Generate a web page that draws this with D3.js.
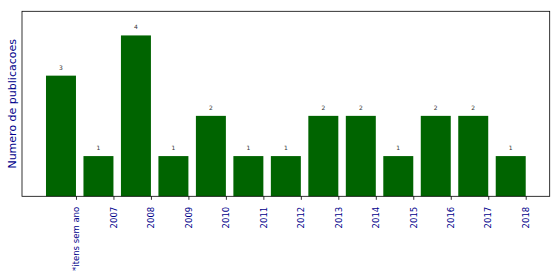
<!DOCTYPE html>
<html>
<head>
<meta charset="utf-8">
<script src="https://cdn.jsdelivr.net/npm/d3@7"></script>
<style>
  body { margin: 0; background: #fff; }
  svg { font-family: "DejaVu Sans", sans-serif; }
</style>
</head>
<body>
<div id="chart"></div>
<script>
const categories = ["*itens sem ano", "2007", "2008", "2009", "2010", "2011", "2012",
    "2013", "2014", "2015", "2016", "2017", "2018"];
const counts = [3, 1, 4, 1, 2, 1, 1, 2, 2, 1, 2, 2, 1];
const yLabel = "Numero de publicacoes";

const width = 560, height = 279;
const margin = { top: 11.3, right: 10.3, bottom: 82.7, left: 22 };
const barColor = "#006400", labelBlue = "darkblue";

const svg = d3.select("#chart")
    .append("svg")
    .attr("width", width)
    .attr("height", height);

const plotW = width - margin.left - margin.right;
const plotH = height - margin.top - margin.bottom;

const g = svg.append("g")
    .attr("transform", `translate(${margin.left},${margin.top})`);

// index scale, bars 0.8 wide, 5% margins like matplotlib
const n = categories.length;
const lo = -0.4, hi = n - 1 + 0.4, pad = (hi - lo) * 0.05;
const x = d3.scaleLinear().domain([lo - pad, hi + pad]).range([0, plotW]);
const y = d3.scaleLinear().domain([0, 4.6]).range([plotH, 0]);

g.selectAll("rect.bar")
    .data(counts)
    .enter().append("rect")
    .attr("class", "bar")
    .attr("x", (d, i) => x(i - 0.4))
    .attr("width", (d, i) => x(i + 0.4) - x(i - 0.4))
    .attr("y", d => y(d))
    .attr("height", d => y(0) - y(d))
    .attr("fill", barColor);

g.selectAll("text.val")
    .data(counts)
    .enter().append("text")
    .attr("class", "val")
    .attr("x", (d, i) => x(i))
    .attr("y", d => y(d) - 6)
    .attr("text-anchor", "middle")
    .attr("font-size", 6)
    .attr("fill", "#333")
    .text(d => d);

// ticks sit at the right edge of each bar
const xAxis = d3.axisBottom(x)
    .tickValues(d3.range(n).map(i => i + 0.4))
    .tickFormat((d, i) => categories[i])
    .tickSize(3.5)
    .tickPadding(3);

const ax = g.append("g")
    .attr("transform", `translate(0,${plotH})`)
    .call(xAxis);
ax.select(".domain").remove();
ax.selectAll(".tick line").attr("stroke", "#000").attr("stroke-width", 0.8);
ax.selectAll(".tick text")
    .attr("font-size", 8.5)
    .attr("font-family", "DejaVu Sans, sans-serif")
    .attr("fill", labelBlue)
    .attr("transform", "rotate(-90)")
    .attr("x", -10.5)
    .attr("y", 0)
    .attr("dy", "0.32em")
    .attr("text-anchor", "end");

g.append("rect")
    .attr("width", plotW)
    .attr("height", plotH)
    .attr("fill", "none")
    .attr("stroke", "#000")
    .attr("stroke-width", 0.8);

svg.append("text")
    .attr("transform", `translate(16,${margin.top + plotH / 2}) rotate(-90)`)
    .attr("text-anchor", "middle")
    .attr("font-size", 11)
    .attr("fill", labelBlue)
    .text(yLabel);
</script>
</body>
</html>
